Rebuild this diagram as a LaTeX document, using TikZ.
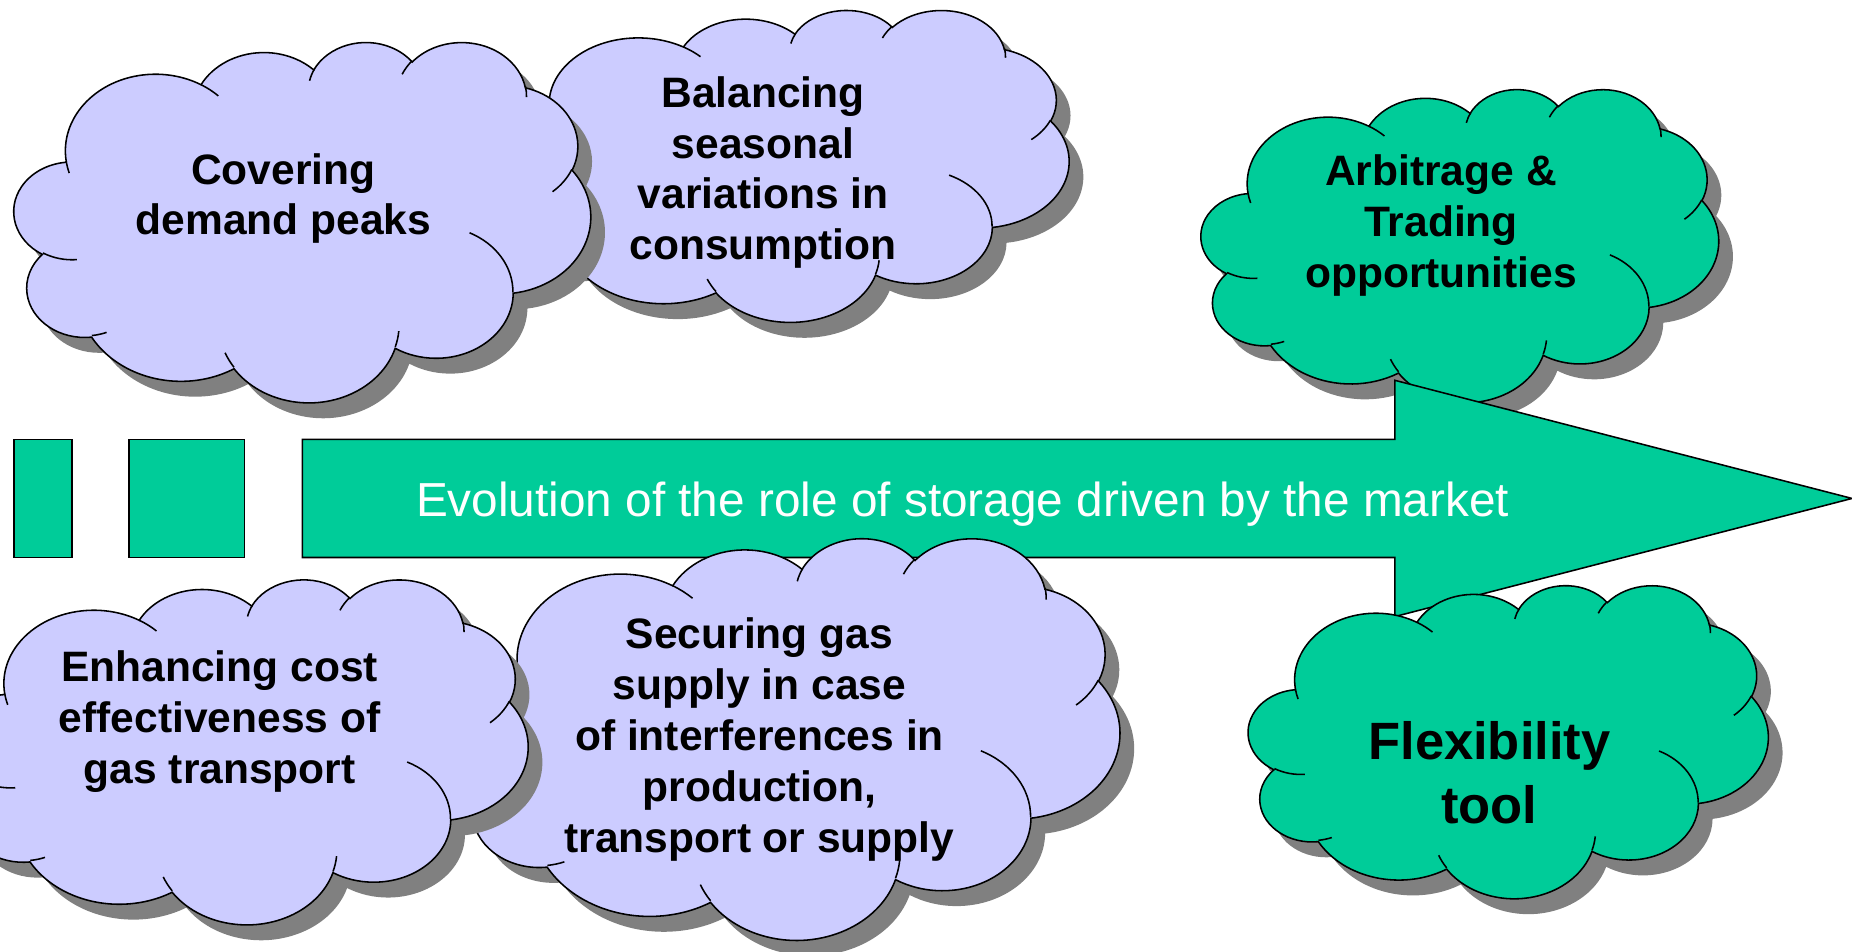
\documentclass[tikz,border=0pt]{standalone}
\usepackage{fontspec}
\setmainfont{Liberation Sans}
\definecolor{lav}{HTML}{CCCCFF}
\definecolor{grn}{HTML}{00CC99}
\definecolor{shd}{HTML}{808080}

% OOXML-style arc: visual angles -> parametric angles
\newcommand\defarc[5]{%
  \pgfmathsetmacro\tmpS{atan2((#2)*sin(#4),(#3)*cos(#4))}%
  \pgfmathsetmacro\tmpE{atan2((#2)*sin((#4)+(#5)),(#3)*cos((#4)+(#5)))}%
  \pgfmathsetmacro\tmpD{mod(\tmpE-(\tmpS)+720,360)}%
  \expandafter\xdef\csname cloudS#1\endcsname{\tmpS}%
  \expandafter\xdef\csname cloudD#1\endcsname{\tmpD}%
}
\defarc{oa}{6.753}{9.190}{-190.4875}{123.7805}
\defarc{ob}{5.333}{7.267}{-144.1024}{89.9452}
\defarc{oc}{4.365}{5.945}{-145.8079}{99.7230}
\defarc{od}{4.857}{6.595}{-130.9861}{117.2417}
\defarc{oe}{5.333}{7.273}{-78.7089}{109.0269}
\defarc{of}{6.775}{9.220}{-46.2673}{130.2690}
\defarc{og}{5.785}{7.867}{0.6250}{114.0333}
\defarc{oh}{6.752}{9.215}{22.4516}{115.1726}
\defarc{oi}{7.720}{10.543}{66.2426}{75.7110}
\defarc{oj}{4.360}{5.918}{-274.9421}{146.7356}
\defarc{ok}{4.345}{5.945}{-246.8285}{152.5189}
\defarc{ia}{4.345}{5.945}{86.7420}{26.4295}
\defarc{ib}{4.360}{5.918}{73.6105}{11.4475}
\defarc{ic}{6.752}{9.215}{137.6242}{14.0811}
\defarc{id}{6.752}{9.215}{6.4533}{15.9984}
\defarc{ie}{5.785}{7.867}{-70.2924}{70.9174}
\defarc{if}{5.333}{7.273}{30.3180}{27.7515}
\defarc{ig}{4.857}{6.595}{-13.7443}{14.8589}
\defarc{ih}{4.857}{6.595}{-149.1815}{18.1954}
\defarc{ii}{4.365}{5.945}{-163.4943}{17.6864}
\defarc{ij}{6.753}{9.190}{-66.7070}{12.3194}
\defarc{ik}{6.753}{9.190}{157.6544}{11.8582}

\newcommand\cloudouter[1]{\path[#1] (3.900,14.370)
  arc[start angle=\cloudSoa, delta angle=\cloudDoa, x radius=6.753, y radius=9.190]
  arc[start angle=\cloudSob, delta angle=\cloudDob, x radius=5.333, y radius=7.267]
  arc[start angle=\cloudSoc, delta angle=\cloudDoc, x radius=4.365, y radius=5.945]
  arc[start angle=\cloudSod, delta angle=\cloudDod, x radius=4.857, y radius=6.595]
  arc[start angle=\cloudSoe, delta angle=\cloudDoe, x radius=5.333, y radius=7.273]
  arc[start angle=\cloudSof, delta angle=\cloudDof, x radius=6.775, y radius=9.220]
  arc[start angle=\cloudSog, delta angle=\cloudDog, x radius=5.785, y radius=7.867]
  arc[start angle=\cloudSoh, delta angle=\cloudDoh, x radius=6.752, y radius=9.215]
  arc[start angle=\cloudSoi, delta angle=\cloudDoi, x radius=7.720, y radius=10.543]
  arc[start angle=\cloudSoj, delta angle=\cloudDoj, x radius=4.360, y radius=5.918]
  arc[start angle=\cloudSok, delta angle=\cloudDok, x radius=4.345, y radius=5.945]
  -- cycle;}
\newcommand\cloudinner[1]{\path[#1]
  (4.693,26.177) arc[start angle=\cloudSia, delta angle=\cloudDia, x radius=4.345, y radius=5.945]
  (6.928,34.899) arc[start angle=\cloudSib, delta angle=\cloudDib, x radius=4.360, y radius=5.918]
  (16.478,39.090) arc[start angle=\cloudSic, delta angle=\cloudDic, x radius=6.752, y radius=9.215]
  (28.827,34.751) arc[start angle=\cloudSid, delta angle=\cloudDid, x radius=6.752, y radius=9.215]
  (34.129,22.954) arc[start angle=\cloudSie, delta angle=\cloudDie, x radius=5.785, y radius=7.867]
  (41.798,15.354) arc[start angle=\cloudSif, delta angle=\cloudDif, x radius=5.333, y radius=7.273]
  (38.324,5.426) arc[start angle=\cloudSig, delta angle=\cloudDig, x radius=4.857, y radius=6.595]
  (29.078,3.952) arc[start angle=\cloudSih, delta angle=\cloudDih, x radius=4.857, y radius=6.595]
  (22.141,4.720) arc[start angle=\cloudSii, delta angle=\cloudDii, x radius=4.365, y radius=5.945]
  (14.000,5.192) arc[start angle=\cloudSij, delta angle=\cloudDij, x radius=6.753, y radius=9.190]
  (4.127,15.789) arc[start angle=\cloudSik, delta angle=\cloudDik, x radius=6.753, y radius=9.190];}

% x y w h fill
\newcommand\cloudshape[5]{%
  \begin{scope}[shift={(#1+12,#2+13)},xscale=#3/43.2,yscale=#4/43.2]
    \cloudouter{fill=shd}
  \end{scope}
  \begin{scope}[shift={(#1,#2)},xscale=#3/43.2,yscale=#4/43.2]
    \cloudouter{fill=#5,draw=black,line width=0.75pt}
    \cloudinner{draw=black,line width=0.75pt}
  \end{scope}}

\begin{document}
\begin{tikzpicture}[x=0.02cm,y=-0.02cm,
  cloudtext/.style={align=center,inner sep=0pt,text=black,
    font=\fontsize{20.5}{24.5}\selectfont\bfseries},
  bigtext/.style={align=center,inner sep=0pt,text=black,
    font=\fontsize{25.3}{30.7}\selectfont\bfseries},
  bar/.style={fill=grn,draw=black,line width=0.75pt}]
\useasboundingbox (0,0) rectangle (1568,806);
\clip (0,0) rectangle (1568,806);

% upper clouds
\cloudshape{422}{8}{483}{264}{lav}
\node[cloudtext] (balancing) at (646,146) {Balancing\\seasonal\\variations in\\consumption};
\cloudshape{12}{35}{488}{305}{lav}
\node[cloudtext] (covering) at (240,168) {Covering\\demand peaks};
\cloudshape{1017}{75}{438}{265}{grn}
\node[cloudtext] (arbitrage) at (1220,191) {Arbitrage \&\\Trading\\opportunities};

% arrow and bars
\path[bar] (12,372) rectangle (61,472);
\path[bar] (109,372) rectangle (207,472);
\path[bar] (256,372) -- (1181,372) -- (1181,322) -- (1568,422)
  -- (1181,522) -- (1181,472) -- (256,472) -- cycle;
\node[inner sep=0pt,text=white,font=\fontsize{23}{27}\selectfont] (evolution)
  at (815,427) {Evolution of the role of storage driven by the market};

% lower clouds
\cloudshape{388}{455}{560}{340}{lav}
\node[cloudtext] (securing) at (643,626) {Securing gas\\supply in case\\of interferences in\\production,\\transport or supply};
\cloudshape{-40}{490}{487}{292}{lav}
\node[cloudtext] (enhancing) at (186,611) {Enhancing cost\\effectiveness of\\gas transport};
\cloudshape{1057}{495}{440}{265}{grn}
\node[bigtext] (flexibility) at (1261,654) {Flexibility\\tool};
\end{tikzpicture}
\end{document}
